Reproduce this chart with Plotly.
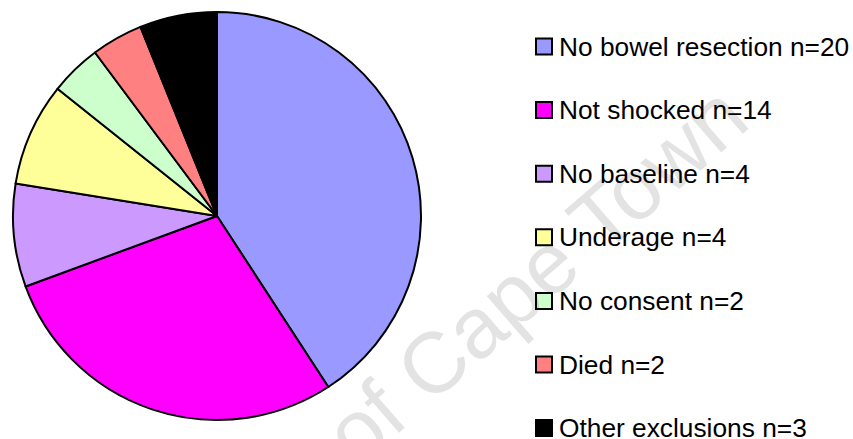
import plotly.graph_objects as go

labels = ["No bowel resection n=20", "Not shocked n=14", "No baseline n=4",
          "Underage n=4", "No consent n=2", "Died n=2", "Other exclusions n=3"]
values = [20, 14, 4, 4, 2, 2, 3]
colors = ["#9999FF", "#FF00FF", "#CC99FF", "#FFFF99", "#CCFFCC", "#FF8080", "#000000"]

W, H = 853, 439
FONT = "Arial, Liberation Sans, sans-serif"

fig = go.Figure()
fig.add_trace(go.Pie(
    labels=labels, values=values, sort=False, direction="clockwise", rotation=0,
    marker=dict(colors=colors, line=dict(color="black", width=2)),
    textinfo="none", hoverinfo="label+value", showlegend=False,
    domain=dict(x=[13 / W, 421 / W], y=[1 - 420 / H, 1 - 12 / H]),
))

shapes = []
annotations = [dict(
    text="University of Cape Town", x=384 / W, y=1 - 406 / H, xref="paper", yref="paper",
    xanchor="center", yanchor="middle", textangle=-41, showarrow=False,
    font=dict(family=FONT, size=86, color="rgba(0,0,0,0.11)"),
)]

row0, step = 46.5, 63.6
for i, (lab, col) in enumerate(zip(labels, colors)):
    yc = row0 + i * step
    shapes.append(dict(type="rect", xref="paper", yref="paper",
                       x0=536 / W, x1=552 / W, y0=1 - (yc + 8) / H, y1=1 - (yc - 8) / H,
                       fillcolor=col, line=dict(color="black", width=2)))
    annotations.append(dict(text=lab, x=557 / W, y=1 - yc / H, xref="paper", yref="paper",
                            xanchor="left", yanchor="middle", showarrow=False,
                            font=dict(family=FONT, size=26.3, color="black")))

fig.update_layout(
    width=W, height=H, margin=dict(l=0, r=0, t=0, b=0),
    paper_bgcolor="white", plot_bgcolor="white",
    shapes=shapes, annotations=annotations,
)

fig.write_html("out.html")
